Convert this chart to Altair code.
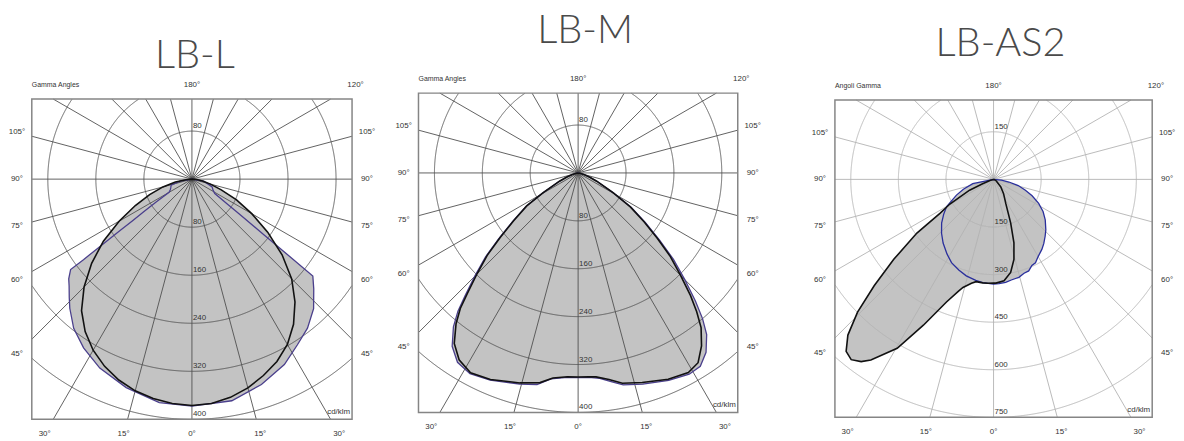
import math
import altair as alt
import pandas as pd

# ---------------------------------------------------------------- data
TITLES = ["LB-L", "LB-M", "LB-AS2"]
ANGLE_CAPTIONS = ["Gamma Angles", "Gamma Angles", "Angoli Gamma"]
UNIT_LABEL = "cd/klm"
RING_VALUES = [
    [80, 160, 240, 320, 400],
    [80, 160, 240, 320, 400],
    [150, 300, 450, 600, 750],
]
SPOKE_STEP = 15
SIDE_ANGLES = [105, 90, 75, 60, 45]
BOTTOM_ANGLES = [-30, -15, 0, 15, 30]
TOP_CENTER_LABEL = "180°"
TOP_RIGHT_ANGLE = 120

# LB-L : C0-C180 plane (black)
LBL_C0_GAMMA = [-90, -85, -80, -75, -70, -65, -60, -55, -50, -45, -40, -35, -30, -25, -20, -15, -10, -5, 0,
                5, 10, 15, 20, 25, 30, 35, 40, 45, 50, 55, 60, 65, 70, 75, 80, 85, 90]
LBL_C0_I = [0, 10, 28, 50, 75, 104, 140, 180, 218, 254, 286, 310, 329, 344, 356, 365, 371, 375, 377,
            375, 369, 360, 348, 335, 318, 295, 267, 235, 196, 154, 115, 82, 52, 32, 18, 8, 0]
# LB-L : C90-C270 plane (violet)
LBL_C90_GAMMA = [-90, -80, -74, -68, -64, -60, -57.5, -56, -55, -54.5, -54, -53.7, -53.4, -53.3, -51, -49,
                 -46, -43.4, -38.4, -32.7, -26, -17.5, -8.3, 0, 10.2, 18.7, 26.5, 32.5, 37.8, 43.2, 48,
                 51.3, 51.7, 52.3, 53.6, 54.8, 57.8, 62, 69, 80, 90]
LBL_C90_I = [0, 20, 36, 38, 40, 44, 70, 95, 120, 147, 175, 199, 225, 252, 264, 271,
             284, 296, 317, 334, 350, 364, 376, 378, 375, 361, 345, 327, 314, 296, 273,
             258, 205, 152, 98, 72, 45, 40, 36, 20, 0]

# LB-M : C0-C180 plane (black)
LBM_C0_GAMMA = [-90, -80, -75, -70, -66, -60.5, -57.3, -53.5, -50.4, -47.8, -45.1, -42.6, -41, -39, -36,
                -32.5, -28.3, -23, -15.5, -10.3, -7, -3, 0, 3, 5, 8.5, 11.9, 17, 23.6, 28.9, 32.3, 35.5,
                38.5, 40.5, 42.5, 45, 47.8, 50.4, 53.5, 57, 60.5, 66, 70, 75, 80, 90]
LBM_C0_I = [0, 3, 10, 20, 34, 67, 102, 134, 169, 205, 238, 273, 300, 324, 352,
            370, 379, 375, 364, 356, 345, 341, 341, 341, 342, 349, 359, 366, 376, 381, 375, 355,
            330, 305, 278, 242, 208, 172, 137, 104, 67, 34, 20, 10, 3, 0]
# LB-M : C90-C270 plane (violet)
LBM_C90_GAMMA = [-90, -80, -75, -70, -66, -60.5, -57.3, -53.5, -50.4, -47.8, -45.1, -42.6, -41, -39, -36,
                 -32.5, -28.3, -23, -15.5, -11, -7.5, -3, 0, 3, 6, 9, 12, 17, 23.6, 28.9, 32.3, 35.5,
                 38.5, 40.5, 42.5, 45, 47.8, 50.4, 53.5, 57, 60.5, 66, 70, 75, 80, 90]
LBM_C90_I = [0, 3, 10, 20, 35, 68, 103, 136, 172, 209, 243, 279, 306, 331, 358,
             375, 381, 376, 366, 360, 347, 342, 342, 342, 345, 353, 362, 369, 378, 384, 382, 368,
             345, 320, 290, 252, 215, 177, 140, 106, 68, 35, 20, 10, 3, 0]

# LB-AS2 : C0-C180 plane (black)
LBA_C0_GAMMA = [-90, -72, -68.5, -65.7, -60.6, -57.7, -55, -51.3, -48.3, -45.7, -43.1, -40.6, -38.3, -36,
                -34.2, -29.7, -25.7, -21, -17.5, -15.8, -12, -9.7, -6, -3, 0, 1.3, 5.9, 10.4, 14.3, 17.8,
                21.4, 26.9, 35, 43.7, 60, 75, 90]
LBA_C0_I = [0, 10, 37, 83, 158, 200, 295, 403, 504, 599, 672, 714, 724, 710,
            688, 613, 510, 414, 370, 354, 335, 327, 328, 328, 327, 327, 321, 298, 260, 210,
            148, 85, 55, 33, 10, 3, 0]
# LB-AS2 : C90-C270 plane (blue)
LBA_C90_GAMMA = [-90, -78.3, -72, -67, -59.9, -55, -49.9, -44, -38.4, -32, -26.8, -21, -15.8, -10, -6, 0,
                 3, 6.7, 10, 14.5, 18, 21, 24, 26.7, 30, 34.6, 38, 42.2, 46, 51.9, 57, 62, 67, 71.2, 76,
                 80.3, 85, 90]
LBA_C90_I = [0, 67, 100, 127, 171, 192, 214, 236, 256, 277, 294, 306, 316, 323, 327, 330,
             329, 327, 322, 319, 311, 309, 297, 294, 281, 268, 257, 242, 229, 207, 186, 161, 132, 106, 80,
             49, 25, 0]

CURVES = [
    ((LBL_C0_GAMMA, LBL_C0_I), (LBL_C90_GAMMA, LBL_C90_I)),
    ((LBM_C0_GAMMA, LBM_C0_I), (LBM_C90_GAMMA, LBM_C90_I)),
    ((LBA_C0_GAMMA, LBA_C0_I), (LBA_C90_GAMMA, LBA_C90_I)),
]

# ---------------------------------------------------------------- layout / style
FONT = "Liberation Sans"
TITLE_FONT = "Lato"
FILL = "#c3c3c3"
BOX_COLOR = "#858585"
TEXT_COLOR = "#333333"
LAYOUT = [
    dict(w=382, h=433, bx=23, by=90, size=323, R=800 / 3, title_dx=3, title_up=31,
         grid="#505050", blue="#4a3f8c"),
    dict(w=400, h=433, bx=31, by=84, size=322, R=800 / 3, title_dx=7, title_up=51,
         grid="#505050", blue="#4a3f8c"),
    dict(w=386, h=433, bx=51, by=91, size=320, R=500, title_dx=7, title_up=44,
         grid="#b3b3b3", blue="#2a2f9c"),
]


def polar(g, i):
    a = math.radians(g)
    return i * math.sin(a), -i * math.cos(a)


def build_panel(k):
    L = LAYOUT[k]
    R = L["R"]
    s = L["size"] / (2 * R)
    xl = -R - L["bx"] / s
    xr = xl + L["w"] / s
    yt = 0.5 * R + L["by"] / s
    yb = yt - L["h"] / s
    box = dict(x0=-R, x1=R, y0=-1.5 * R, y1=0.5 * R)

    X = alt.X("x:Q", scale=alt.Scale(domain=[xl, xr], nice=False, zero=False), axis=None)
    Y = alt.Y("y:Q", scale=alt.Scale(domain=[yb, yt], nice=False, zero=False), axis=None)

    def inside(x, y):
        return box["x0"] - 1e-9 <= x <= box["x1"] + 1e-9 and box["y0"] - 1e-9 <= y <= box["y1"] + 1e-9

    # curves
    rows = []
    for name, (gam, inten) in zip(["C0", "C90"], CURVES[k]):
        for j, (g, i) in enumerate(zip(gam, inten)):
            x, y = polar(g, i)
            rows.append(dict(curve=name, idx=j, x=x, y=y))
    cdf = pd.DataFrame(rows)

    # spokes
    srows = []
    for g in range(0, 360, SPOKE_STEP):
        dx, dy = math.sin(math.radians(g)), -math.cos(math.radians(g))
        ts = []
        if dx > 1e-9:
            ts.append(box["x1"] / dx)
        if dx < -1e-9:
            ts.append(box["x0"] / dx)
        if dy > 1e-9:
            ts.append(box["y1"] / dy)
        if dy < -1e-9:
            ts.append(box["y0"] / dy)
        t = min(ts)
        srows.append(dict(x=0.0, y=0.0, x2=t * dx, y2=t * dy))
    sdf = pd.DataFrame(srows)

    # rings, clipped to the frame
    rrows = []
    seg_id = 0
    n = 2000
    for r in RING_VALUES[k]:
        pts = [polar(360.0 * j / n, r) for j in range(n)]
        ins = [inside(x, y) for x, y in pts]
        if all(ins):
            for j, (x, y) in enumerate(pts + [pts[0]]):
                rrows.append(dict(seg=seg_id, idx=j, x=x, y=y))
            seg_id += 1
            continue
        start = ins.index(False)
        order = list(range(start, n)) + list(range(0, start))
        cur = []
        for j in order:
            if ins[j]:
                cur.append(pts[j])
            else:
                if len(cur) > 1:
                    for q, (x, y) in enumerate(cur):
                        rrows.append(dict(seg=seg_id, idx=q, x=x, y=y))
                    seg_id += 1
                cur = []
        if len(cur) > 1:
            for q, (x, y) in enumerate(cur):
                rrows.append(dict(seg=seg_id, idx=q, x=x, y=y))
            seg_id += 1
    rdf = pd.DataFrame(rrows)

    # labels
    off = 15 / s
    Xs = R + off
    side = []
    for g in SIDE_ANGLES:
        a = math.radians(g)
        yy = -Xs * math.cos(a) / math.sin(a)
        side.append(dict(x=-Xs, y=yy, text=f"{g}°"))
        side.append(dict(x=Xs, y=yy, text=f"{g}°"))
    Yb = 1.5 * R + off
    for g in BOTTOM_ANGLES:
        side.append(dict(x=Yb * math.tan(math.radians(g)), y=-Yb, text=f"{abs(g)}°"))
    Yt = 0.5 * R + 14.5 / s
    side.append(dict(x=0.0, y=Yt, text=TOP_CENTER_LABEL))
    side.append(dict(x=Yt * math.tan(math.radians(180 - TOP_RIGHT_ANGLE)), y=Yt, text=f"{TOP_RIGHT_ANGLE}°"))
    side_df = pd.DataFrame(side)

    cap_df = pd.DataFrame([dict(x=-R, y=Yt, text=ANGLE_CAPTIONS[k])])
    rl = [dict(x=0.0, y=float(RING_VALUES[k][0]), text=str(RING_VALUES[k][0]))]
    for r in RING_VALUES[k]:
        rl.append(dict(x=0.0, y=-float(r), text=str(r)))
    ring_lab_df = pd.DataFrame(rl)
    unit_df = pd.DataFrame([dict(x=R, y=-1.5 * R, text=UNIT_LABEL)])
    title_df = pd.DataFrame([dict(x=L["title_dx"] / s, y=0.5 * R + L["title_up"] / s, text=TITLES[k])])
    box_df = pd.DataFrame([dict(x=box["x0"], x2=box["x1"], y=box["y0"], y2=box["y1"])])

    fill_layer = alt.Chart(cdf).mark_line(fill=FILL, strokeOpacity=0, strokeWidth=0).encode(
        x=X, y=Y, detail="curve:N", order="idx:Q")
    ring_layer = alt.Chart(rdf).mark_line(color=L["grid"], strokeWidth=0.9).encode(
        x=X, y=Y, detail="seg:N", order="idx:Q")
    spoke_layer = alt.Chart(sdf).mark_rule(color=L["grid"], strokeWidth=0.9).encode(
        x=X, y=Y, x2="x2:Q", y2="y2:Q")
    blue_layer = alt.Chart(cdf[cdf.curve == "C90"]).mark_line(color=L["blue"], strokeWidth=1.3).encode(
        x=X, y=Y, order="idx:Q")
    black_layer = alt.Chart(cdf[cdf.curve == "C0"]).mark_line(color="#111111", strokeWidth=1.6).encode(
        x=X, y=Y, order="idx:Q")
    box_layer = alt.Chart(box_df).mark_rect(fill=None, stroke=BOX_COLOR, strokeWidth=1.5).encode(
        x=X, x2="x2:Q", y=Y, y2="y2:Q")
    side_layer = alt.Chart(side_df).mark_text(font=FONT, fontSize=8, color=TEXT_COLOR,
                                              align="center", baseline="middle").encode(
        x=X, y=Y, text="text:N")
    cap_layer = alt.Chart(cap_df).mark_text(font=FONT, fontSize=7, color=TEXT_COLOR,
                                            align="left", baseline="middle").encode(
        x=X, y=Y, text="text:N")
    ring_lab_layer = alt.Chart(ring_lab_df).mark_text(font=FONT, fontSize=8, color=TEXT_COLOR,
                                                      align="left", baseline="bottom", dx=1, dy=-1).encode(
        x=X, y=Y, text="text:N")
    unit_layer = alt.Chart(unit_df).mark_text(font=FONT, fontSize=8, color=TEXT_COLOR,
                                              align="right", baseline="bottom", dx=-2, dy=-3).encode(
        x=X, y=Y, text="text:N")
    title_layer = alt.Chart(title_df).mark_text(font=TITLE_FONT, fontSize=40, fontWeight=300,
                                                color="#4a4a4a", align="center",
                                                baseline="alphabetic").encode(
        x=X, y=Y, text="text:N")

    return alt.layer(fill_layer, ring_layer, spoke_layer, blue_layer, black_layer, box_layer,
                     side_layer, cap_layer, ring_lab_layer, unit_layer, title_layer).properties(
        width=L["w"], height=L["h"])


panels = [build_panel(k) for k in range(3)]
chart = alt.hconcat(*panels, spacing=0, bounds="flush").properties(
    padding=0, background="white").configure_view(stroke=None)

chart.save("out.html", embed_options={"renderer": "svg", "actions": False})
